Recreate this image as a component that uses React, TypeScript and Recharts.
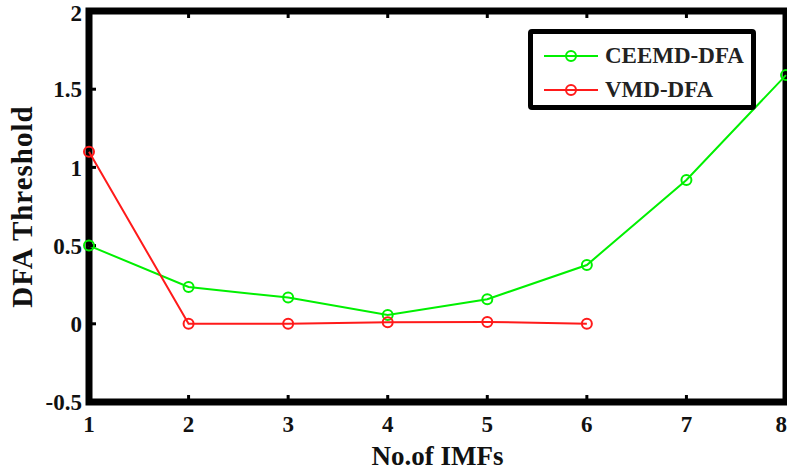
import { LineChart, Line, XAxis, YAxis, ReferenceArea } from 'recharts'

const imfs = [1, 2, 3, 4, 5, 6, 7, 8]
const ceemdDfa = [0.5, 0.235, 0.168, 0.057, 0.157, 0.376, 0.92, 1.59]
const vmdDfa = [1.1, 0.0, 0.0, 0.01, 0.012, 0.0]
const yTicks = [-0.5, 0, 0.5, 1, 1.5, 2]

const data = imfs.map((n, i) => ({
  n,
  ceemd: ceemdDfa[i],
  vmd: i < vmdDfa.length ? vmdDfa[i] : null,
}))

const FONT = '"Liberation Serif", "Times New Roman", serif'
const GREEN = '#00f000'
const RED = '#ff1a1a'

const tickStyle = { fill: '#111', fontSize: 23, fontWeight: 700, fontFamily: FONT }
const tickLine = { stroke: '#000', strokeWidth: 3 }

function LegendBox() {
  const rows = [
    { label: 'CEEMD-DFA', color: GREEN },
    { label: 'VMD-DFA', color: RED },
  ]
  return (
    <div
      style={{
        position: 'absolute',
        left: 528,
        top: 29,
        boxSizing: 'border-box',
        width: 228,
        height: 81,
        border: '5px solid #000',
        borderRadius: 4,
        background: '#fff',
        paddingTop: 5,
        paddingLeft: 9,
      }}
    >
      {rows.map(r => (
        <div key={r.label} style={{ display: 'flex', alignItems: 'center', height: 34 }}>
          <svg width={58} height={16} style={{ marginRight: 5 }}>
            <line x1={2} y1={8} x2={56} y2={8} stroke={r.color} strokeWidth={2} />
            <circle cx={29} cy={8} r={5} fill="none" stroke={r.color} strokeWidth={2} />
          </svg>
          <span style={{ fontFamily: FONT, fontWeight: 700, fontSize: 23, color: '#222' }}>{r.label}</span>
        </div>
      ))}
    </div>
  )
}

export default function App() {
  return (
    <div style={{ position: 'absolute', left: 0, top: 0, width: 787, height: 471, background: '#fff' }}>
      <LineChart width={787} height={471} data={data} margin={{ top: 10, right: 0, bottom: 0, left: 0 }}>
        <XAxis
          dataKey="n"
          type="number"
          domain={[1, 8]}
          ticks={imfs}
          height={69}
          tickSize={-7}
          tickMargin={21}
          tick={tickStyle}
          axisLine={false}
          tickLine={tickLine}
          label={{ value: 'No.of IMFs', position: 'insideBottom', offset: 6, fill: '#111', fontSize: 27, fontWeight: 700, fontFamily: FONT }}
        />
        <XAxis
          xAxisId="top"
          orientation="top"
          dataKey="n"
          type="number"
          domain={[1, 8]}
          ticks={imfs}
          height={1}
          tickSize={-7}
          tickFormatter={() => ''}
          axisLine={false}
          tickLine={tickLine}
        />
        <YAxis
          type="number"
          domain={[-0.5, 2]}
          ticks={yTicks}
          width={89}
          tickSize={-7}
          tickMargin={14}
          tick={tickStyle}
          axisLine={false}
          tickLine={tickLine}
          label={{
            content: ({ viewBox }: any) => {
              const cy = viewBox ? viewBox.y + viewBox.height / 2 : 206
              return (
                <text
                  x={22}
                  y={cy}
                  transform={`rotate(-90, 22, ${cy})`}
                  textAnchor="middle"
                  dominantBaseline="central"
                  fill="#111"
                  fontSize={29}
                  fontWeight={700}
                  letterSpacing={1}
                  fontFamily={FONT}
                >
                  DFA Threshold
                </text>
              )
            },
          }}
        />
        <YAxis
          yAxisId="right"
          orientation="right"
          type="number"
          domain={[-0.5, 2]}
          ticks={yTicks}
          width={1}
          tickSize={-7}
          tickFormatter={() => ''}
          axisLine={false}
          tickLine={tickLine}
        />
        <ReferenceArea
          x1={1}
          x2={8}
          y1={-0.5}
          y2={2}
          fill="none"
          fillOpacity={0}
          stroke="#000"
          strokeWidth={7}
          strokeOpacity={1}
          ifOverflow="visible"
        />
        <Line
          type="linear"
          dataKey="ceemd"
          name="CEEMD-DFA"
          stroke={GREEN}
          strokeWidth={2}
          dot={{ r: 5, fill: 'none', stroke: GREEN, strokeWidth: 2 }}
          isAnimationActive={false}
        />
        <Line
          type="linear"
          dataKey="vmd"
          name="VMD-DFA"
          stroke={RED}
          strokeWidth={2}
          dot={{ r: 5, fill: 'none', stroke: RED, strokeWidth: 2 }}
          isAnimationActive={false}
        />
      </LineChart>
      <LegendBox />
    </div>
  )
}
